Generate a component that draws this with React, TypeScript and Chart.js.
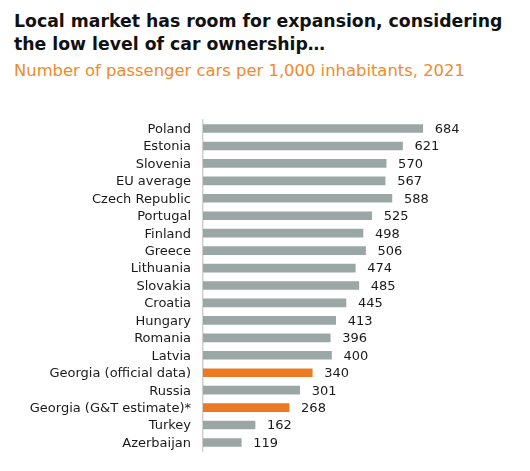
import React, { useEffect, useRef } from "react";
import { Chart, registerables } from "chart.js";

Chart.register(...registerables);

const categories = [
  "Poland", "Estonia", "Slovenia", "EU average", "Czech Republic", "Portugal",
  "Finland", "Greece", "Lithuania", "Slovakia", "Croatia", "Hungary", "Romania",
  "Latvia", "Georgia (official data)", "Russia", "Georgia (G&T estimate)*",
  "Turkey", "Azerbaijan",
];
const values = [684, 621, 570, 567, 588, 525, 498, 506, 474, 485, 445, 413, 396, 400, 340, 301, 268, 162, 119];
const highlighted = ["Georgia (official data)", "Georgia (G&T estimate)*"];

const GREY = "#9ba7a4";
const ORANGE = "#ec7a22";
const FONT = "'DejaVu Sans', sans-serif";

const valueLabels = {
  id: "valueLabels",
  afterDatasetsDraw(chart: any) {
    const { ctx } = chart;
    const meta = chart.getDatasetMeta(0);
    ctx.save();
    ctx.font = `13px ${FONT}`;
    ctx.fillStyle = "#1a1a1a";
    ctx.textBaseline = "middle";
    ctx.textAlign = "left";
    meta.data.forEach((bar: any, i: number) => {
      ctx.fillText(String(values[i]), bar.x + 12, bar.y + 1);
    });
    ctx.restore();
  },
};

export default function App() {
  const ref = useRef<HTMLCanvasElement>(null);
  useEffect(() => {
    if (!ref.current) return;
    const chart = new Chart(ref.current, {
      type: "bar",
      data: {
        labels: categories,
        datasets: [
          {
            data: values,
            backgroundColor: categories.map((c) => (highlighted.includes(c) ? ORANGE : GREY)),
            barThickness: 8,
          },
        ],
      },
      options: {
        indexAxis: "y",
        animation: false,
        responsive: false,
        maintainAspectRatio: false,
        layout: { padding: { top: 19, bottom: 16, left: 0, right: 70 } },
        plugins: { legend: { display: false }, tooltip: { enabled: false } },
        scales: {
          x: { display: false, min: 0, max: 800 },
          y: {
            afterFit(scale: any) { scale.width = 203; },
            grid: { display: false, drawTicks: false },
            border: { display: true, color: "#d0d0d0", width: 1.5 },
            ticks: { autoSkip: false, padding: 12, labelOffset: 1, color: "#1a1a1a", font: { family: FONT, size: 13 } },
          },
        },
      },
      plugins: [valueLabels],
    });
    return () => chart.destroy();
  }, []);
  return (
    <div style={{ position: "relative", width: 530, height: 471, margin: -8, fontFamily: FONT }}>
      <div style={{ position: "absolute", left: 14, top: 10, fontSize: 17.3, fontWeight: 700, lineHeight: "23px", color: "#111", width: 516, whiteSpace: "nowrap" }}>
        Local market has room for expansion, considering<br />the low level of car ownership…
      </div>
      <div style={{ position: "absolute", left: 14, top: 60, fontSize: 16.4, color: "#f08a2a", lineHeight: "22px", whiteSpace: "nowrap" }}>
        Number of passenger cars per 1,000 inhabitants, 2021
      </div>
      <canvas ref={ref} width={530} height={371} style={{ position: "absolute", left: 0, top: 100 }} />
    </div>
  );
}
